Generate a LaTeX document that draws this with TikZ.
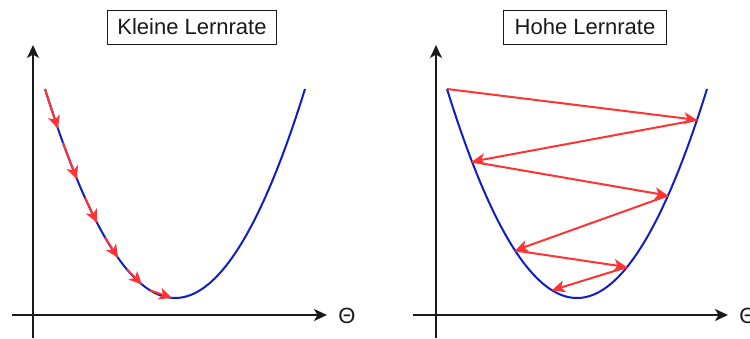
\documentclass[tikz,border=0pt]{standalone}
\usepackage{fontspec}
\setmainfont{Liberation Sans}
\usetikzlibrary{arrows.meta}
\definecolor{redarr}{HTML}{FF3333}
\definecolor{bluecurve}{HTML}{0F1FC4}
\definecolor{axiscol}{HTML}{1A1A1A}
\begin{document}
\begin{tikzpicture}[x=1pt,y=-1pt,
  declare function={fl(\x)=298-(0.11121*(\x-175))^2; fr(\x)=298-(0.11121*(\x-577))^2;},
  axis/.style={line width=2pt,draw=axiscol,-{Stealth[length=13pt,width=12pt,inset=3.5pt]}},
  curve/.style={line width=2pt,draw=bluecurve},
  step arrow/.style={line width=2pt,draw=redarr,-{Stealth[length=13pt,width=12pt,inset=3.5pt,fill=redarr]}},
  titlebox/.style={draw=axiscol,line width=1pt,minimum height=34pt,inner xsep=10pt,inner ysep=0pt,font=\fontsize{22}{26}\selectfont,text=axiscol},
  thetalab/.style={font=\fontsize{22}{26}\selectfont,text=axiscol,inner sep=0pt}]
\useasboundingbox (0,0) rectangle (750,338);
\fill[white] (0,0) rectangle (750,338);

% ---------- left panel ----------
\node[titlebox] (tl) at (192,27) {Kleine Lernrate};
\coordinate (ly0) at (33,338);
\coordinate (ly1) at (33,45);
\coordinate (lx0) at (12,315);
\coordinate (lx1) at (327,315);
\draw[axis] (ly0) -- (ly1);
\draw[axis] (lx0) -- (lx1);
\node[thetalab] (lt) at (347,316) {Θ};
\draw[curve] plot[domain=45:305,samples=80] (\x,{fl(\x)});

\foreach \a/\b [count=\i] in {45/58,63/77,85/97,105/118,127/142,150/172}{
  \coordinate (ls\i) at (\a,{fl(\a)});
  \coordinate (le\i) at (\b,{fl(\b)});
  \draw[step arrow] (ls\i) -- (le\i);
}

% ---------- right panel ----------
\node[titlebox,inner xsep=11pt] (tr) at (585,27) {Hohe Lernrate};
\coordinate (ry0) at (436,338);
\coordinate (ry1) at (436,45);
\coordinate (rx0) at (413,315);
\coordinate (rx1) at (728,315);
\draw[axis] (ry0) -- (ry1);
\draw[axis] (rx0) -- (rx1);
\node[thetalab] (rt) at (748,316) {Θ};
\draw[curve] plot[domain=447:707,samples=80] (\x,{fr(\x)});

\coordinate (p0) at (447,{fr(447)});
\coordinate (p1) at (697,{fr(697)});
\coordinate (p2) at (472,{fr(472)});
\coordinate (p3) at (668,{fr(668)});
\coordinate (p4) at (515,{fr(515)});
\coordinate (p5) at (627,{fr(627)});
\coordinate (p6) at (552,{fr(552)});
\draw[step arrow] (p0) -- (p1);
\draw[step arrow] (p1) -- (p2);
\draw[step arrow] (p2) -- (p3);
\draw[step arrow] (p3) -- (p4);
\draw[step arrow] (p4) -- (p5);
\draw[step arrow] (p5) -- (p6);
\end{tikzpicture}
\end{document}
